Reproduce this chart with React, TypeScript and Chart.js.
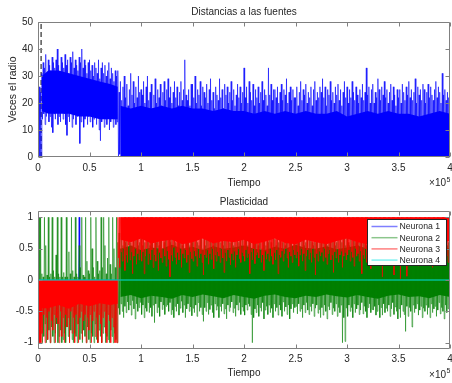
import { useEffect, useRef } from 'react';
import { Chart, registerables } from 'chart.js';

Chart.register(...registerables);

const FONT = "'Liberation Sans', Arial, Helvetica, sans-serif";
const TEXT = '#262626';
const AXIS = '#808080';
const BLUE = '#0000ff';
const GREEN = '#008000';
const RED = '#ff0000';
const CYAN = '#00e0e0';
// Thin, partly transparent strokes for the dense traces
const BLUE_TRACE = 'rgba(0,0,255,0.6)';
const GREEN_TRACE = 'rgba(0,128,0,0.55)';
const RED_TRACE = 'rgba(255,0,0,0.6)';

// Time axis
const T_MAX = 400000;
const X_TICK_STEP = 50000;
// Spacing of the sampled envelope points (time units); each sample holds a
// local maximum and the following local minimum of the signal
const STEP = 1250;
// Index of the first sample after the regime change (~0.78e5)
const SWITCH_INDEX = 62;

// ---------- Distancias a las fuentes ----------
const blueHi = [
  22, 26, 24, 31, 35, 33, 38, 30, 36, 34, 32, 37, 35, 33, 36, 40, 34, 31, 37, 35,
  33, 38, 34, 36, 31, 37, 35, 39, 33, 36, 34, 32, 37, 35, 40, 33, 36, 34, 31, 35,
  36, 32, 34, 30, 35, 33, 31, 36, 29, 33, 35, 31, 34, 30, 32, 35, 29, 33, 31, 28,
  32, 30, 32, 24, 28, 21, 26, 30, 22, 27, 19, 25, 31, 23, 28, 20, 26, 22, 30, 24,
  25, 23, 28, 20, 26, 30, 21, 24, 27, 18, 23, 29, 20, 25, 22, 27, 19, 24, 28, 21,
  25, 29, 22, 26, 20, 24, 28, 22, 26, 19, 24, 28, 21, 25, 36, 23, 21, 25, 19, 27,
  27, 22, 30, 20, 25, 23, 28, 19, 26, 24, 22, 27, 20, 25, 29, 21, 24, 18, 26, 23,
  21, 29, 22, 25, 18, 27, 23, 26, 20, 24, 28, 21, 25, 19, 23, 27, 22, 26, 20, 24,
  33, 22, 26, 20, 28, 24, 21, 27, 19, 25, 22, 26, 20, 24, 28, 21, 25, 23, 19, 33,
  23, 27, 21, 25, 25, 22, 26, 20, 24, 27, 21, 25, 23, 29, 20, 24, 26, 21, 25, 22,
  22, 26, 19, 24, 28, 21, 25, 23, 27, 20, 24, 22, 26, 19, 25, 28, 21, 24, 22, 26,
  24, 29, 22, 26, 19, 25, 23, 28, 21, 24, 20, 26, 23, 27, 21, 25, 19, 24, 28, 22,
  26, 20, 25, 22, 28, 24, 21, 26, 23, 20, 25, 22, 27, 21, 24, 33, 23, 26, 20, 25,
  27, 20, 24, 22, 29, 25, 21, 26, 23, 28, 22, 25, 20, 24, 27, 21, 26, 23, 19, 25,
  22, 25, 20, 27, 24, 21, 26, 23, 28, 22, 25, 21, 24, 29, 20, 26, 23, 25, 21, 27,
  25, 20, 24, 27, 22, 26, 23, 21, 25, 28, 22, 26, 24, 20, 31, 23, 25, 21, 24, 22,
];
const blueLo = [
  0, 0, 0, 14, 16, 12, 15, 18, 13, 15, 11, 9, 16, 14, 17, 12, 15, 13, 18, 14,
  16, 12, 8, 15, 13, 17, 11, 14, 16, 12, 15, 18, 5, 13, 16, 11, 14, 17, 12, 15,
  13, 16, 11, 14, 17, 12, 15, 10, 6, 13, 16, 11, 14, 12, 15, 10, 13, 16, 11, 14,
  12, 13, 0, 1, 0, 0, 2, 0, 1, 0, 0, 1, 0, 0, 2, 0, 0, 1, 0, 0,
  1, 0, 0, 2, 0, 0, 1, 0, 3, 0, 0, 1, 0, 0, 2, 0, 1, 0, 0, 0,
  0, 1, 0, 0, 2, 0, 0, 1, 0, 0, 3, 0, 0, 1, 0, 0, 2, 0, 0, 1,
  2, 0, 0, 1, 0, 0, 3, 0, 0, 1, 0, 0, 2, 0, 1, 0, 0, 0, 2, 0,
  0, 0, 2, 0, 1, 0, 0, 0, 2, 0, 1, 0, 0, 3, 0, 0, 1, 0, 0, 2,
  1, 0, 0, 3, 0, 1, 0, 0, 0, 2, 0, 0, 1, 0, 0, 2, 0, 1, 0, 0,
  0, 1, 0, 0, 2, 0, 0, 1, 0, 0, 0, 2, 0, 0, 1, 0, 3, 0, 0, 1,
  0, 2, 0, 0, 1, 0, 3, 0, 0, 1, 0, 0, 2, 0, 0, 1, 0, 0, 2, 0,
  0, 0, 1, 0, 0, 2, 0, 0, 1, 0, 2, 0, 0, 1, 0, 0, 0, 3, 0, 0,
  2, 0, 0, 1, 0, 0, 0, 3, 0, 1, 0, 0, 1, 0, 2, 0, 0, 1, 0, 0,
  0, 1, 0, 0, 2, 0, 1, 0, 0, 0, 2, 0, 0, 1, 0, 0, 3, 0, 0, 1,
  1, 0, 3, 0, 0, 1, 0, 0, 2, 0, 0, 1, 0, 0, 2, 0, 0, 1, 0, 0,
  0, 0, 1, 0, 2, 0, 0, 1, 0, 0, 1, 0, 0, 2, 0, 0, 1, 0, 0, 0,
];
// Dense band of the first regime
const blueCorePreT = [3750, 10000, 20000, 30000, 40000, 50000, 60000, 70000, 77500];
const blueCorePreTop = [30, 32, 32, 31, 30, 29, 28, 27, 26];
const blueCorePreBottom = [17, 16, 16, 16, 15, 15, 14, 14, 14];
// Dense band of the second regime (from zero up to these values)
const blueCorePost = [
  19, 18, 19, 18, 19, 18, 19, 18, 18, 17,
  18, 17, 17, 16, 17, 16, 17, 16, 17, 16,
  16, 17, 15, 16, 17, 16, 17, 16, 16, 15,
  16, 17, 16,
];
// Marker of the initial instant
const markerT = [3000, 3000];
const markerY = [0, 50];

// ---------- Plasticidad ----------
const neuron1T = [0, 39500, 40000, 40500, T_MAX];
const neuron1 = [0, 0, 1, 0, 0];

const greenHi = [
  1, 1, 1, 0.1, 0.05, 1, 0.55, 0.08, 1, 0.05, 0.1, 1, 0.15, 0.05, 0.4, 1, 0.1, 0.05, 1, 0.05,
  0.12, 0.05, 1, 0.05, 0.45, 0.1, 1, 0.15, 0.05, 1, 0.1, 0.05, 0.55, 0.2, 1, 0.08, 0.05, 1, 0.3, 0.15,
  0.1, 1, 0.5, 0.2, 0.05, 1, 0.3, 0.1, 0.15, 1, 0.2, 1, 0.55, 0.1, 0.35, 1, 0.25, 0.1, 1, 0.5,
  0.2, 1, 0.6, 0.75, 0.5, 0.7, 0.55, 0.8, 0.6, 0.65, 0.5, 0.75, 0.6, 0.55, 0.7, 0.5, 0.65, 0.8, 0.55, 0.6,
  0.7, 0.55, 0.8, 0.6, 0.5, 0.75, 0.65, 0.55, 0.7, 0.6, 0.5, 0.8, 0.6, 0.7, 0.55, 0.65, 0.75, 0.5, 0.6, 0.7,
  0.65, 0.5, 0.75, 0.6, 0.8, 0.55, 0.7, 0.6, 0.5, 0.65, 0.75, 0.6, 0.55, 0.7, 0.5, 0.8, 0.6, 0.65, 0.55, 0.7,
  0.6, 0.7, 0.5, 0.75, 0.6, 0.55, 0.8, 0.65, 0.5, 0.7, 0.55, 0.65, 0.75, 0.5, 0.7, 0.6, 0.55, 0.8, 0.6, 0.65,
  0.7, 0.5, 0.6, 0.75, 0.55, 0.65, 0.7, 0.5, 0.8, 0.6, 0.6, 0.75, 0.55, 0.65, 0.5, 0.7, 0.6, 0.8, 0.55, 0.65,
  0.5, 0.7, 0.65, 0.55, 0.75, 0.6, 0.5, 0.7, 0.6, 0.8, 0.65, 0.55, 0.7, 0.6, 0.5, 0.75, 0.65, 0.55, 0.7, 0.6,
  0.75, 0.6, 0.5, 0.7, 0.65, 0.55, 0.8, 0.6, 0.7, 0.5, 0.6, 0.7, 0.55, 0.65, 0.75, 0.5, 0.6, 0.7, 0.55, 0.65,
  0.55, 0.7, 0.6, 0.8, 0.5, 0.65, 0.75, 0.55, 0.6, 0.7, 0.5, 0.65, 0.8, 0.6, 0.55, 0.7, 0.6, 0.75, 0.5, 0.65,
  0.6, 0.5, 0.7, 0.65, 0.8, 0.55, 0.6, 0.75, 0.5, 0.7, 0.65, 0.55, 0.6, 0.8, 0.5, 0.7, 0.6, 0.65, 0.75, 0.55,
  0.7, 0.6, 0.55, 0.75, 0.5, 0.65, 0.8, 0.6, 0.7, 0.55, 0.6, 0.75, 0.5, 0.65, 0.7, 0.55, 0.8, 0.6, 0.5, 0.7,
  0.65, 0.55, 0.7, 0.6, 0.8, 0.5, 0.75, 0.6, 0.55, 0.7, 0.65, 0.5, 0.6, 0.75, 0.55, 0.7, 0.6, 0.8, 0.65, 0.5,
  0.6, 0.75, 0.55, 0.65, 0.7, 0.5, 0.6, 0.8, 0.55, 0.7, 0.6, 0.65, 0.75, 0.5, 0.7, 0.55, 0.6, 0.8, 0.65, 0.55,
  0.7, 0.5, 0.65, 0.6, 0.75, 0.55, 0.7, 0.6, 0.5, 0.8, 0.65, 0.55, 0.7, 0.6, 0.75, 0.5, 0.65, 0.7, 0.55, 0.6,
];
const greenLo = [
  -0.05, -0.95, -0.85, -1, -0.9, -0.7, -1, -0.95, -0.8, -1, -0.75, -0.9, -1, -0.85, -0.7, -1, -0.9, -0.8, -1, -0.95,
  -0.85, -1, -0.75, -0.9, -1, -0.8, -0.95, -1, -0.85, -0.9, -1, -0.7, -0.95, -0.85, -1, -0.8, -0.9, -1, -0.75, -0.95,
  -1, -0.85, -0.9, -1, -0.7, -0.95, -1, -0.8, -0.9, -1, -0.85, -0.75, -1, -0.9, -0.95, -1, -0.8, -0.9, -1, -0.85,
  -0.95, -1, -0.45, -0.55, -0.38, -0.5, -0.6, -0.42, -0.52, -0.35, -0.48, -0.4, -0.56, -0.33, -0.46, -0.62, -0.38, -0.5, -0.44, -0.36,
  -0.55, -0.4, -0.6, -0.45, -0.5, -0.36, -0.52, -0.44, -0.58, -0.4, -0.68, -0.38, -0.52, -0.44, -0.58, -0.35, -0.47, -0.4, -0.55, -0.42,
  -0.4, -0.5, -0.36, -0.55, -0.48, -0.6, -0.42, -0.5, -0.38, -0.56, -0.45, -0.34, -0.52, -0.4, -0.6, -0.46, -0.38, -0.5, -0.43, -0.57,
  -0.45, -0.52, -0.4, -0.58, -0.36, -0.5, -0.44, -0.55, -0.66, -0.44, -0.5, -0.36, -0.55, -0.47, -0.4, -0.52, -0.6, -0.38, -0.48, -0.42,
  -0.6, -0.42, -0.5, -0.38, -0.54, -0.46, -0.62, -0.4, -0.5, -0.44, -0.35, -0.52, -0.45, -0.58, -0.4, -0.48, -0.36, -0.55, -0.43, -0.5,
  -0.56, -0.4, -0.48, -0.38, -0.42, -0.55, -1, -0.6, -0.46, -0.52, -0.4, -0.58, -0.44, -0.5, -0.36, -0.62, -0.48, -0.42, -0.55, -0.4,
  -0.52, -0.45, -0.6, -0.38, -0.5, -0.44, -0.56, -0.4, -0.48, -0.58, -0.35, -0.5, -0.43, -0.55, -0.4, -0.62, -0.46, -0.38, -0.52, -0.44,
  -0.42, -0.54, -0.38, -0.5, -0.46, -0.6, -0.4, -0.52, -0.36, -0.48, -0.55, -0.42, -0.5, -0.38, -0.58, -0.45, -0.4, -0.53, -0.47, -0.6,
  -0.44, -0.56, -0.4, -0.5, -0.62, -0.42, -0.48, -0.36, -0.55, -0.45, -0.5, -0.38, -0.58, -0.44, -0.52, -0.4, -1, -0.6, -0.98, -0.45,
  -0.58, -0.4, -0.5, -0.44, -0.6, -0.38, -0.52, -0.46, -0.4, -0.55, -0.48, -0.36, -0.54, -0.42, -0.5, -0.6, -0.44, -0.38, -0.52, -0.47,
  -0.48, -0.42, -0.56, -0.5, -0.4, -0.6, -0.44, -0.56, -0.38, -0.52, -0.45, -0.5, -0.4, -0.58, -0.46, -0.36, -0.55, -0.43, -0.5, -0.62,
  -0.46, -0.6, -0.4, -0.5, -0.55, -0.82, -0.42, -0.58, -0.44, -0.5, -0.75, -0.4, -0.52, -0.46, -0.38, -0.56, -0.48, -0.42, -0.6, -0.45,
  -0.5, -0.4, -0.55, -0.44, -0.6, -0.38, -0.52, -0.46, -0.42, -0.58, -0.48, -0.36, -0.54, -0.44, -0.5, -0.62, -0.4, -0.52, -0.46, -0.4,
];
const greenCoreTop = [
  0.5, 0.55, 0.48, 0.52, 0.5, 0.56, 0.5, 0.53, 0.48, 0.54,
  0.5, 0.52, 0.55, 0.5, 0.48, 0.53, 0.5, 0.56, 0.51, 0.5,
  0.54, 0.49, 0.52, 0.55, 0.5, 0.53, 0.48, 0.51, 0.54, 0.5,
  0.52, 0.55, 0.5,
];
const greenCoreBottom = [
  -0.27, -0.24, -0.29, -0.25, -0.27, -0.3, -0.24, -0.27, -0.23, -0.26,
  -0.29, -0.24, -0.27, -0.3, -0.25, -0.23, -0.27, -0.29, -0.25, -0.27,
  -0.23, -0.26, -0.28, -0.24, -0.27, -0.3, -0.25, -0.23, -0.27, -0.26,
  -0.29, -0.24, -0.27,
];

// Neurona 3 is clipped at 0 in the first regime and at 1 afterwards
const RED_PRE_BOUND = 0;
const RED_POST_BOUND = 1;
const redFar = [
  -1, -1, -1, -0.85, -0.55, -1, -0.6, -0.95, -0.5, -1, -0.65, -0.8, -0.55, -1, -0.6, -0.7, -1, -0.5, -0.9, -0.6,
  -1, -0.55, -0.75, -0.6, -1, -0.5, -0.85, -0.6, -1, -0.55, -0.7, -1, -0.6, -0.5, -0.95, -0.65, -0.55, -1, -0.6, -0.8,
  -0.55, -1, -0.65, -0.5, -0.9, -0.6, -1, -0.55, -0.7, -1, -0.6, -0.5, -0.85, -1, -0.55, -0.65, -1, -0.6, -0.75, -1,
  -1, -1, 0.35, 0.2, 0.45, 0.3, 0.5, 0.15, 0.4, 0.28, 0.55, 0.32, 0.45, 0.1, 0.38, 0.5, 0.25, 0.42, 0.32, 0.48,
  0.3, 0.45, 0.1, 0.38, 0.5, 0.25, 0.42, 0.32, 0.48, 0.2, 0.4, 0.3, 0.52, 0.15, 0.44, 0.35, 0.28, 0.5, 0.38, 0.22,
  0.46, 0.33, 0.05, 0.4, 0.3, 0.52, 0.36, 0.25, 0.44, 0.32, 0.5, 0.2, 0.42, 0.35, 0.48, 0.28, 0.4, 0.12, 0.45, 0.34,
  0.3, 0.46, 0.38, 0.22, 0.5, 0.35, 0.42, 0.28, 0.08, 0.4, 0.36, 0.48, 0.25, 0.42, 0.33, 0.5, 0.18, 0.4, 0.3, 0.45,
  0.38, 0.28, 0.5, 0.35, 0.12, 0.44, 0.3, 0.48, 0.36, 0.24, 0.42, 0.32, 0.46, 0.2, 0.4, 0.5, 0.34, 0.28, 0.44, 0.38,
  0.3, 0.48, 0.36, 0.42, 0.1, 0.45, 0.32, 0.5, 0.26, 0.4, 0.44, 0.35, 0.5, 0.28, 0.4, 0.15, 0.46, 0.33, 0.42, 0.3,
  0.5, 0.38, 0.25, 0.44, 0.32, 0.48, 0.1, 0.4, 0.36, 0.46, 0.3, 0.42, 0.5, 0.35, 0.2, 0.45, 0.38, 0.28, 0.48, 0.4,
  0.35, 0.45, 0.22, 0.4, 0.5, 0.3, 0.42, 0.15, 0.38, 0.48, 0.33, 0.44, 0.28, 0.5, 0.36, 0.08, 0.42, 0.3, 0.46, 0.38,
  0.44, 0.3, 0.5, 0.36, 0.25, 0.42, 0.48, 0.32, 0.4, 0.12, 0.45, 0.35, 0.5, 0.28, 0.4, 0.46, 0.2, 0.38, 0.44, 0.32,
  0.4, 0.48, 0.3, 0.45, 0.36, 0.22, 0.5, 0.38, 0.42, 0.3, 0.46, 0.1, 0.4, 0.34, 0.5, 0.28, 0.44, 0.38, 0.18, 0.45,
  0.36, 0.5, 0.42, 0.28, 0.46, 0.34, 0.4, 0.05, 0.48, 0.32, 0.44, 0.38, 0.25, 0.5, 0.36, 0.42, 0.08, 0.46, 0.3, 0.4,
  0.48, 0.02, 0.38, 0.44, 0.3, 0.5, 0.06, 0.4, 0.35, 0.46, 0.28, 0.42, 0.5, 0.32, 0.4, 0.22, 0.45, 0.36, 0.48, 0.3,
  0.42, 0.35, 0.5, 0.28, 0.44, 0.38, 0.2, 0.46, 0.32, 0.4, 0.5, 0.36, 0.25, 0.42, 0.48, 0.3, 0.45, 0.38, 0.28, 0.44,
];
const redCorePreT = [0, 3000, 4000, 10000, 20000, 30000, 40000, 50000, 60000, 70000, 77500];
const redCorePre = [-1, -1, -0.45, -0.45, -0.4, -0.46, -0.38, -0.42, -0.37, -0.4, -0.38];
const redCorePost = [
  0.64, 0.6, 0.66, 0.58, 0.62, 0.64, 0.57, 0.6, 0.66, 0.58,
  0.62, 0.6, 0.64, 0.57, 0.61, 0.66, 0.59, 0.57, 0.64, 0.6,
  0.57, 0.62, 0.66, 0.6, 0.57, 0.62, 0.64, 0.59, 0.6, 0.57,
  0.64, 0.6, 0.62,
];

const neuron4T = [0, T_MAX];
const neuron4 = [0, 0];

const legendLabels = ['Neurona 1', 'Neurona 2', 'Neurona 3', 'Neurona 4'];
const legendColors = ['rgba(0,0,255,0.5)', 'rgba(0,128,0,0.45)', 'rgba(255,0,0,0.5)', 'rgba(0,230,230,0.5)'];

const topYTicks = [0, 10, 20, 30, 40, 50];
const bottomYTicks = [-1, -0.5, 0, 0.5, 1];

// ---------- helpers ----------
type Pt = { x: number; y: number };
const toPoints = (xs: number[], ys: number[]): Pt[] => xs.map((x, i) => ({ x, y: ys[i] }));
const grid = (start: number, step: number, n: number) => Array.from({ length: n }, (_, i) => start + i * step);
const zigzag = (near: number[], far: number[]): Pt[] =>
  near.flatMap((v, i) => [
    { x: i * STEP, y: v },
    { x: i * STEP + STEP / 2, y: far[i] },
  ]);
const postCoreT = grid(80000, 10000, 33);
const redNear = redFar.map((_, i) => (i < SWITCH_INDEX ? RED_PRE_BOUND : RED_POST_BOUND));

const NONE = 'rgba(0,0,0,0)';
const trace = (data: Pt[], color: string, width = 1, extra: any = {}) => ({
  data,
  borderColor: color,
  borderWidth: width,
  backgroundColor: color,
  fill: false,
  ...extra,
});
const area = (data: Pt[], color: string, fill: any) => ({
  data,
  borderColor: NONE,
  borderWidth: 0,
  backgroundColor: color,
  fill,
});

// MATLAB-style box, inward ticks, titles and axis labels
const matlabAxes = {
  id: 'matlabAxes',
  afterDatasetsDraw(chart: any, _args: any, opts: any) {
    const { ctx, chartArea: a, scales } = chart;
    const x = scales.x;
    const y = scales.y;
    const L = Math.round(a.left) + 0.5;
    const R = Math.round(a.right) - 0.5;
    const T = Math.round(a.top) + 0.5;
    const B = Math.round(a.bottom) - 0.5;
    ctx.save();
    ctx.strokeStyle = AXIS;
    ctx.lineWidth = 1;
    ctx.beginPath();
    for (const t of x.ticks) {
      const px = Math.round(x.getPixelForValue(t.value)) + 0.5;
      ctx.moveTo(px, B);
      ctx.lineTo(px, B - 4);
      ctx.moveTo(px, T);
      ctx.lineTo(px, T + 4);
    }
    for (const t of y.ticks) {
      const py = Math.round(y.getPixelForValue(t.value)) + 0.5;
      ctx.moveTo(L, py);
      ctx.lineTo(L + 4, py);
      ctx.moveTo(R, py);
      ctx.lineTo(R - 4, py);
    }
    ctx.rect(L, T, R - L, B - T);
    ctx.stroke();

    ctx.fillStyle = TEXT;
    ctx.textBaseline = 'middle';
    ctx.textAlign = 'center';
    ctx.font = `10px ${FONT}`;
    const cx = (a.left + a.right) / 2;
    ctx.fillText(opts.title, cx, opts.titleY);
    ctx.fillText('Tiempo', cx, opts.xLabelY);

    ctx.textAlign = 'right';
    ctx.fillText('×10', 446, opts.expY);
    ctx.textAlign = 'left';
    ctx.font = `7px ${FONT}`;
    ctx.fillText('5', 446.5, opts.expY - 3.5);

    if (opts.yLabel) {
      ctx.save();
      ctx.translate(13, (a.top + a.bottom) / 2);
      ctx.rotate(-Math.PI / 2);
      ctx.textAlign = 'center';
      ctx.font = `10.5px ${FONT}`;
      ctx.fillText(opts.yLabel, 0, 0);
      ctx.restore();
    }
    ctx.restore();
  },
};

const neuronLegend = {
  id: 'neuronLegend',
  afterDraw(chart: any) {
    const { ctx, chartArea: a } = chart;
    const right = Math.round(a.right) - 3.5;
    const left = right - 79;
    const top = Math.round(a.top) + 8.5;
    const h = 46;
    ctx.save();
    ctx.fillStyle = '#ffffff';
    ctx.fillRect(left, top, right - left, h);
    ctx.strokeStyle = TEXT;
    ctx.lineWidth = 1;
    ctx.strokeRect(left, top, right - left, h);
    ctx.font = `8.7px ${FONT}`;
    ctx.textBaseline = 'middle';
    ctx.textAlign = 'left';
    legendLabels.forEach((label, i) => {
      const yy = top + 7 + i * 11.2;
      ctx.strokeStyle = legendColors[i];
      ctx.lineWidth = 1.5;
      ctx.beginPath();
      ctx.moveTo(left + 4, yy);
      ctx.lineTo(left + 30, yy);
      ctx.stroke();
      ctx.fillStyle = TEXT;
      ctx.fillText(label, left + 32, yy + 0.5);
    });
    ctx.restore();
  },
};

const fmtNum = (v: number) => String(Math.round(v * 100) / 100);

// keep the plot box fixed: no extra room reserved for edge tick labels
const noEdgePadding = (s: any) => {
  s.paddingLeft = 0;
  s.paddingRight = 0;
  s.paddingTop = 0;
  s.paddingBottom = 0;
};

const baseOptions = (opts: {
  padTop: number;
  xHeight: number;
  xPad: number;
  yMin: number;
  yMax: number;
  yTicks: number[];
  axes: any;
}) => ({
  responsive: false,
  animation: false as const,
  devicePixelRatio: 1,
  events: [],
  layout: { padding: { top: opts.padTop, right: 2, left: 0, bottom: 0 }, autoPadding: false },
  elements: {
    point: { radius: 0, hoverRadius: 0 },
    line: { tension: 0, borderJoinStyle: 'bevel' as const, borderCapStyle: 'butt' as const },
  },
  plugins: {
    legend: { display: false },
    tooltip: { enabled: false },
    filler: { propagate: false },
    matlabAxes: opts.axes,
  },
  scales: {
    x: {
      type: 'linear' as const,
      min: 0,
      max: T_MAX,
      grid: { display: false, drawTicks: false },
      border: { display: false },
      ticks: {
        stepSize: X_TICK_STEP,
        autoSkip: false,
        maxRotation: 0,
        padding: opts.xPad,
        color: TEXT,
        font: { family: FONT, size: 10 },
        callback: (v: any) => fmtNum(Number(v) / 1e5),
      },
      afterFit: (s: any) => {
        s.height = opts.xHeight;
        noEdgePadding(s);
      },
    },
    y: {
      type: 'linear' as const,
      min: opts.yMin,
      max: opts.yMax,
      grid: { display: false, drawTicks: false },
      border: { display: false },
      ticks: {
        padding: 5,
        color: TEXT,
        font: { family: FONT, size: 10 },
        callback: (v: any) => fmtNum(Number(v)),
      },
      afterBuildTicks: (s: any) => {
        s.ticks = opts.yTicks.map((value) => ({ value }));
      },
      afterFit: (s: any) => {
        s.width = 38;
        noEdgePadding(s);
      },
    },
  },
});

const distanceConfig = (): any => ({
  type: 'line',
  data: {
    datasets: [
      trace(zigzag(blueHi, blueLo), BLUE_TRACE, 1),
      area(toPoints(blueCorePreT, blueCorePreTop), BLUE, '+1'),
      area(toPoints(blueCorePreT, blueCorePreBottom), NONE, false),
      area(toPoints(postCoreT, blueCorePost), BLUE, { value: 0 }),
      trace(toPoints(markerT, markerY), '#000000', 1, { borderDash: [5, 3] }),
    ],
  },
  options: baseOptions({
    padTop: 22,
    xHeight: 35,
    xPad: 5,
    yMin: 0,
    yMax: 50,
    yTicks: topYTicks,
    axes: { title: 'Distancias a las fuentes', titleY: 12, xLabelY: 183, expY: 183.5, yLabel: 'Veces el radio' },
  }),
  plugins: [matlabAxes],
});

const plasticityConfig = (): any => ({
  type: 'line',
  data: {
    datasets: [
      trace(toPoints(neuron4T, neuron4), CYAN, 1),
      trace(zigzag(redNear, redFar), RED_TRACE, 1),
      area(toPoints(redCorePreT, redCorePre), RED, { value: RED_PRE_BOUND }),
      area(toPoints(postCoreT, redCorePost), RED, { value: RED_POST_BOUND }),
      trace(zigzag(greenHi, greenLo), GREEN_TRACE, 1),
      area(toPoints(postCoreT, greenCoreTop), GREEN, '+1'),
      area(toPoints(postCoreT, greenCoreBottom), NONE, false),
      trace(toPoints(neuron1T, neuron1), BLUE, 0.8),
    ],
  },
  options: baseOptions({
    padTop: 19,
    xHeight: 34,
    xPad: 4,
    yMin: -1.1,
    yMax: 1.1,
    yTicks: bottomYTicks,
    axes: { title: 'Plasticidad', titleY: 10.5, xLabelY: 181.5, expY: 183 },
  }),
  plugins: [matlabAxes, neuronLegend],
});

export default function App() {
  const topRef = useRef<HTMLCanvasElement>(null);
  const bottomRef = useRef<HTMLCanvasElement>(null);

  useEffect(() => {
    const top = new Chart(topRef.current as HTMLCanvasElement, distanceConfig());
    const bottom = new Chart(bottomRef.current as HTMLCanvasElement, plasticityConfig());
    return () => {
      top.destroy();
      bottom.destroy();
    };
  }, []);

  return (
    <div style={{ position: 'fixed', left: 0, top: 0, width: 452, height: 383, background: '#ffffff', overflow: 'hidden' }}>
      <canvas ref={topRef} width={452} height={192} style={{ position: 'absolute', left: 0, top: 0 }} />
      <canvas ref={bottomRef} width={452} height={191} style={{ position: 'absolute', left: 0, top: 192 }} />
    </div>
  );
}
